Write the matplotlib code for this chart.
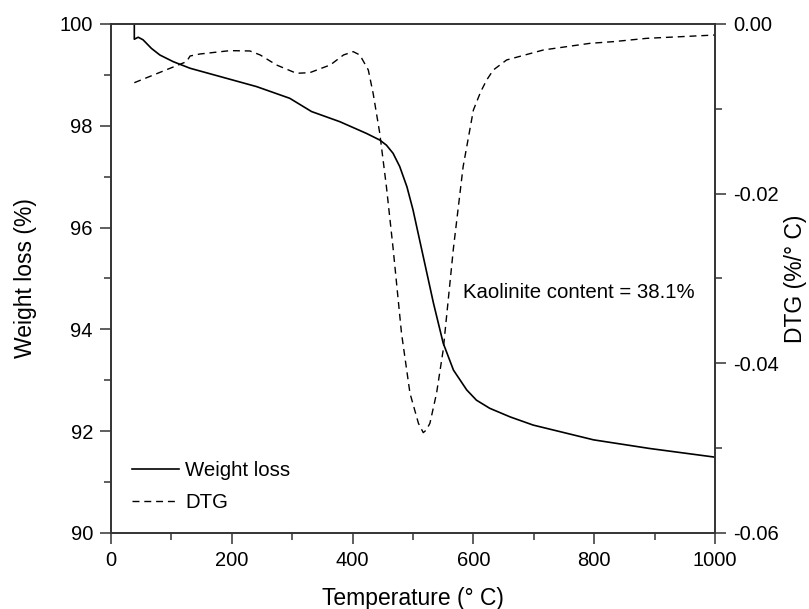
import numpy as np
import matplotlib; matplotlib.use('Agg')
import matplotlib.pyplot as plt
from matplotlib.ticker import MultipleLocator

plt.rcParams['font.family'] = ['Liberation Sans', 'DejaVu Sans']

# TGA weight loss (%) vs temperature (deg C)
temp_w = [38.6, 38.6, 45, 53, 67, 81, 103, 131, 186, 241, 296, 332, 379, 423,
          445, 456, 467, 478, 490, 500, 512, 534, 550, 567, 589, 605, 627, 661,
          699, 799, 892, 1000]
weight = [100.0, 99.70, 99.74, 99.69, 99.52, 99.39, 99.26, 99.13, 98.95, 98.77,
          98.54, 98.28, 98.08, 97.85, 97.72, 97.62, 97.46, 97.20, 96.80, 96.35,
          95.70, 94.51, 93.73, 93.20, 92.81, 92.61, 92.45, 92.28, 92.12, 91.83,
          91.66, 91.49]

# DTG (%/deg C) vs temperature
temp_d = [38.6, 125, 131, 147, 197, 230, 247, 274, 307, 329, 363, 385, 401, 412,
          426, 434, 445, 456, 467, 481, 495, 509, 517, 522, 528, 539, 550, 567,
          583, 600, 612, 622, 633, 655, 716, 793, 832, 887, 1000]
dtg = [-0.00692, -0.00444, -0.00377, -0.00354, -0.00314, -0.00318, -0.00365,
       -0.00483, -0.00581, -0.00574, -0.00483, -0.00365, -0.00326, -0.00365,
       -0.00542, -0.00817, -0.01289, -0.01918, -0.02640, -0.03646, -0.04353,
       -0.04707, -0.04817, -0.04786, -0.04707, -0.04353, -0.03843, -0.02640,
       -0.01682, -0.01014, -0.00800, -0.00660, -0.00542, -0.00424, -0.00306,
       -0.00228, -0.00208, -0.00169, -0.00130]

fig = plt.figure(figsize=(8.09, 6.09), dpi=100)
ax = fig.add_axes([0.1372, 0.1248, 0.7466, 0.8358])
ax2 = ax.twinx()

spine_c = '#333333'
l1, = ax.plot(temp_w, weight, color='black', lw=1.2, label='Weight loss')
l2, = ax2.plot(temp_d, dtg, color='black', lw=1.0, ls=(0, (5, 3.5)), label='DTG')

ax.set_xlim(0, 1000); ax.set_ylim(90, 100)
ax2.set_ylim(-0.06, 0.0)
ax.xaxis.set_major_locator(MultipleLocator(200)); ax.xaxis.set_minor_locator(MultipleLocator(100))
ax.yaxis.set_major_locator(MultipleLocator(2)); ax.yaxis.set_minor_locator(MultipleLocator(1))
ax2.yaxis.set_major_locator(MultipleLocator(0.02)); ax2.yaxis.set_minor_locator(MultipleLocator(0.01))
ax2.yaxis.set_major_formatter(plt.FormatStrFormatter('%.2f'))

for a in (ax, ax2):
    for s in a.spines.values():
        s.set_color(spine_c); s.set_linewidth(1.2)
    a.tick_params(which='major', direction='out', length=8, width=1.1, color=spine_c,
                  labelsize=14.5, pad=5)
    a.tick_params(which='minor', direction='out', length=5, width=1.1, color=spine_c)
ax.tick_params(axis='x', which='both', top=False)

ax.set_xlabel('Temperature (° C)', fontsize=16.5, labelpad=12)
ax.set_ylabel('Weight loss (%)', fontsize=16.5, labelpad=16)
ax2.set_ylabel('DTG (%/° C)', fontsize=16.5, labelpad=4)

ax.text(582, 94.72, 'Kaolinite content = 38.1%', fontsize=14.7, va='center', ha='left')

ax.legend(handles=[l1, l2], loc='lower left', bbox_to_anchor=(0.005, 0.005), frameon=False,
          fontsize=14.7, handlelength=2.3, handletextpad=0.3, labelspacing=0.65)

fig.savefig('out.png', dpi=100)
